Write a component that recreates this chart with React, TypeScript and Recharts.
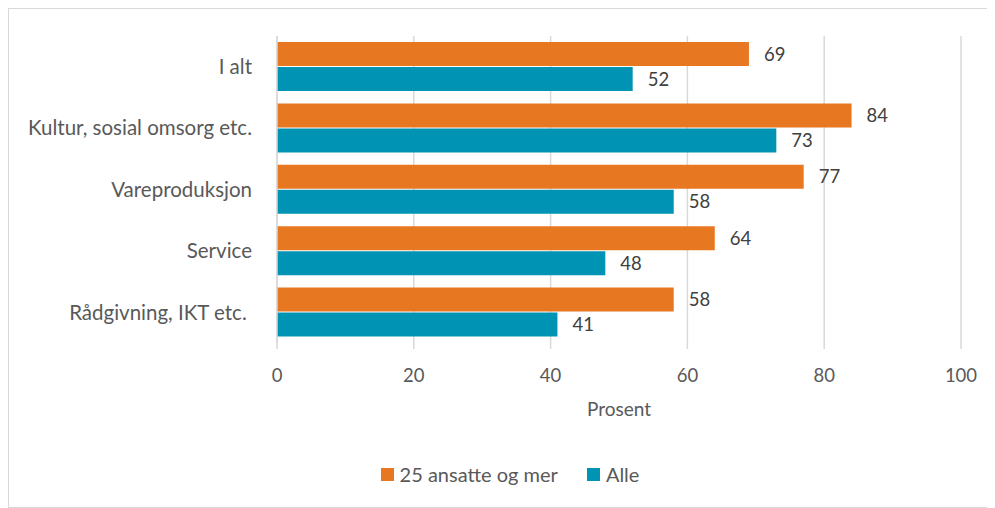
import React from "react";
import {
  BarChart,
  Bar,
  XAxis,
  YAxis,
  CartesianGrid,
  Legend,
  LabelList,
} from "recharts";

const categories = [
  "I alt",
  "Kultur, sosial omsorg etc.",
  "Vareproduksjon",
  "Service",
  "Rådgivning, IKT etc.\u00a0",
];
const large = [69, 84, 77, 64, 58];
const all = [52, 73, 58, 48, 41];
const xTicks = [0, 20, 40, 60, 80, 100];

const seriesNames = ["25 ansatte og mer", "Alle"];
const seriesColors = ["#E87722", "#0093B4"];

const data = categories.map((name, i) => ({ name, large: large[i], all: all[i] }));

const font = "Lato, 'Noto Sans', sans-serif";
const textColor = "#595959";

function LegendContent() {
  return (
    <div
      style={{
        display: "flex",
        justifyContent: "center",
        gap: 29,
        height: 26,
        lineHeight: "26px",
        paddingLeft: 50,
        fontSize: 20,
        fontFamily: font,
        color: textColor,
      }}
    >
      {seriesNames.map((n, i) => (
        <div key={n} style={{ display: "flex", alignItems: "center", gap: 6 }}>
          <span style={{ width: 13, height: 13, background: seriesColors[i], display: "inline-block" }} />
          <span>{n}</span>
        </div>
      ))}
    </div>
  );
}

export default function App() {
  return (
    <div
      style={{
        width: 985,
        height: 498,
        border: "1px solid #d9d9d9",
        background: "#fff",
        fontFamily: font,
      }}
    >
      <BarChart
        width={985}
        height={498}
        data={data}
        layout="vertical"
        barSize={24}
        barGap={1}
        margin={{ top: 27, right: 33, bottom: 20, left: 0 }}
      >
        <CartesianGrid horizontal={false} stroke="#d9d9d9" strokeWidth={1.5} />
        <XAxis
          type="number"
          domain={[0, 100]}
          ticks={xTicks}
          axisLine={false}
          tickLine={{ stroke: "#d9d9d9", strokeWidth: 1.5 }}
          tickSize={6}
          tickMargin={20}
          height={118}
          tick={{ fill: textColor, fontSize: 18.5, fontFamily: font }}
          label={{
            value: "Prosent",
            position: "insideTop",
            offset: 60,
            fill: textColor,
            fontSize: 19,
            fontFamily: font,
          }}
        />
        <YAxis
          type="category"
          dataKey="name"
          width={268}
          axisLine={{ stroke: "#d9d9d9", strokeWidth: 1.5 }}
          tickLine={false}
          tickMargin={19}
          tick={{ fill: textColor, fontSize: 20.5, fontFamily: font }}
        />
        <Legend verticalAlign="bottom" content={<LegendContent />} />
        <Bar
          dataKey="large"
          name={seriesNames[0]}
          fill={seriesColors[0]}
          isAnimationActive={false}
        >
          <LabelList
            dataKey="large"
            position="right"
            offset={15}
            fill="#404040"
            fontSize={18.5}
            fontFamily={font}
          />
        </Bar>
        <Bar dataKey="all" name={seriesNames[1]} fill={seriesColors[1]} isAnimationActive={false}>
          <LabelList
            dataKey="all"
            position="right"
            offset={15}
            fill="#404040"
            fontSize={18.5}
            fontFamily={font}
          />
        </Bar>
      </BarChart>
    </div>
  );
}
